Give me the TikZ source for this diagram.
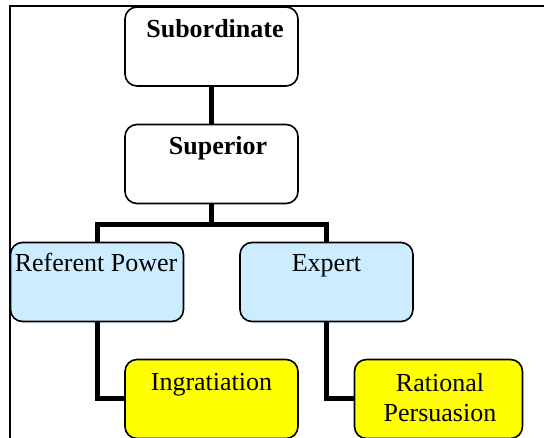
\documentclass[tikz,border=0pt]{standalone}
\usepackage{fontspec}
\setmainfont{Liberation Serif}
\definecolor{boxblue}{HTML}{CCECFF}
\definecolor{boxyellow}{HTML}{FFFF00}
\begin{document}
\begin{tikzpicture}[x=1pt,y=-1pt,
  box/.style={draw=black, line width=1.6pt, rounded corners=12pt, minimum width=173pt, minimum height=79pt, inner sep=0pt, anchor=center},
  conn/.style={line width=5pt, draw=black},
  lbl/.style={anchor=base, inner sep=0pt, font=\fontsize{26}{31}\selectfont, align=center},
  blbl/.style={lbl, font=\fontsize{26}{31}\selectfont\bfseries}]
\useasboundingbox (0,0) rectangle (544,438);
% frame
\draw[line width=2pt] (10,438) -- (10,6) -- (544,6);
% boxes
\node[box, fill=white] (sub) at (211.5,46.5) {};
\node[box, fill=white] (sup) at (211.5,164) {};
\node[box, fill=boxblue] (ref) at (97,282) {};
\node[box, fill=boxblue] (exp) at (326.5,282) {};
\node[box, fill=boxyellow] (ing) at (211.5,399) {};
\node[box, fill=boxyellow, minimum width=168pt] (rat) at (438.5,399) {};
% texts
\node[blbl] (tsub) at (215,38) {Subordinate};
\node[blbl] (tsup) at (218,155) {Superior};
\node[lbl] (tref) at (96,272) {Referent Power};
\node[lbl] (texp) at (326.5,272) {Expert};
\node[lbl] (ting) at (211.5,391) {Ingratiation};
\node[lbl] (trat) at (440,422) {Rational\\Persuasion};
% connectors
\coordinate (j) at (211.5,225);
\draw[conn] (sub.south) -- (sup.north);
\draw[conn] (sup.south) -- (j);
\draw[conn] (ref.north) |- (j) -| (exp.north);
\draw[conn] (ref.south) |- (ing.west);
\draw[conn] (exp.south) |- (rat.west);
\end{tikzpicture}
\end{document}
